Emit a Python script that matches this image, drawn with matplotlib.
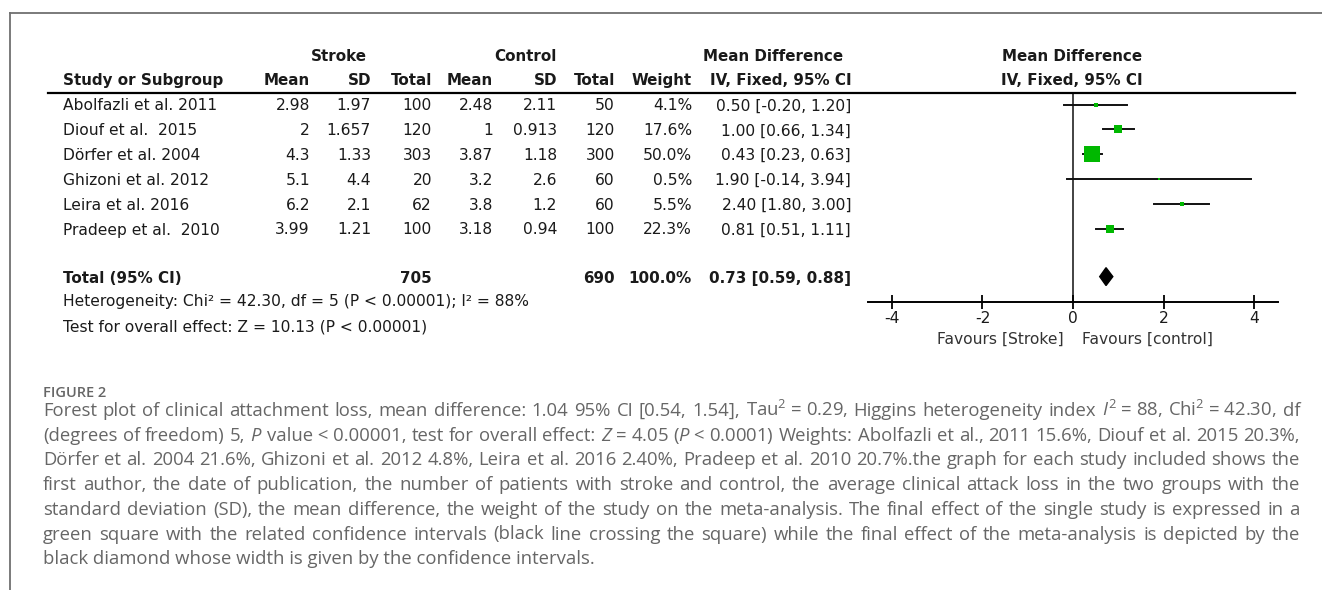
import matplotlib
matplotlib.use("Agg")
import matplotlib.pyplot as plt
from matplotlib.lines import Line2D
from matplotlib.patches import Polygon

plt.rcParams["axes.unicode_minus"] = False
plt.rcParams["mathtext.fontset"] = "custom"
plt.rcParams["mathtext.rm"] = "Open Sans"
plt.rcParams["mathtext.it"] = "Open Sans:italic"
plt.rcParams["mathtext.bf"] = "Open Sans:bold"

# study data
studies = ["Abolfazli et al. 2011", "Diouf et al.  2015", "Dörfer et al. 2004",
           "Ghizoni et al. 2012", "Leira et al. 2016", "Pradeep et al.  2010"]
stroke_mean = [2.98, 2, 4.3, 5.1, 6.2, 3.99]
stroke_sd = [1.97, 1.657, 1.33, 4.4, 2.1, 1.21]
stroke_n = [100, 120, 303, 20, 62, 100]
control_mean = [2.48, 1, 3.87, 3.2, 3.8, 3.18]
control_sd = [2.11, 0.913, 1.18, 2.6, 1.2, 0.94]
control_n = [50, 120, 300, 60, 60, 100]
weights = [4.1, 17.6, 50.0, 0.5, 5.5, 22.3]
md = [0.50, 1.00, 0.43, 1.90, 2.40, 0.81]
ci_low = [-0.20, 0.66, 0.23, -0.14, 1.80, 0.51]
ci_high = [1.20, 1.34, 0.63, 3.94, 3.00, 1.11]

total_stroke, total_control = 705, 690
total_md, total_low, total_high = 0.73, 0.59, 0.88
x_ticks = [-4, -2, 0, 2, 4]

# caption, one entry per printed line; \u00a0 keeps a pair of words together
caption_lines = [
    "Forest plot of clinical attachment loss, mean difference: 1.04 95% CI [0.54, 1.54], "
    "Tau$^2$\u00a0=\u00a00.29, Higgins heterogeneity index $I^2$\u00a0=\u00a088, "
    "Chi$^2$\u00a0=\u00a042.30, df",
    "(degrees of freedom) 5, $P$ value\u00a0<\u00a00.00001, test for overall effect: "
    "$Z$\u00a0=\u00a04.05 ($P$\u00a0<\u00a00.0001) Weights: Abolfazli et al., 2011 15.6%, "
    "Diouf et al. 2015 20.3%,",
    "Dörfer et al. 2004 21.6%, Ghizoni et al. 2012 4.8%, Leira et al. 2016 2.40%, "
    "Pradeep et al. 2010 20.7%.the graph for each study included shows the",
    "first author, the date of publication, the number of patients with stroke and control, "
    "the average clinical attack loss in the two groups with the",
    "standard deviation (SD), the mean difference, the weight of the study on the "
    "meta-analysis. The final effect of the single study is expressed in a",
    "green square with the related confidence intervals (black line crossing the square) "
    "while the final effect of the meta-analysis is depicted by the",
    "black diamond whose width is given by the confidence intervals.",
]

W, H = 1322, 590
GREEN = "#00b800"
INK = "#1a1a1a"
CAP = "#666666"
FS = 11.2
HFS = 10.9
CFS = 13.3


def fx(x):
    return x / W


def fy(y):
    return 1 - y / H


fig = plt.figure(figsize=(W / 100, H / 100), dpi=100)


def put(x, y, s, ha="left", bold=False, size=FS, color=INK):
    fig.text(fx(x), fy(y), s, ha=ha, va="baseline", fontsize=size,
             fontweight="bold" if bold else "normal", color=color)


# frame
fig.add_artist(Line2D([fx(10), fx(1322)], [fy(13), fy(13)], color="#707070", lw=1.3))
fig.add_artist(Line2D([fx(9.5), fx(9.5)], [fy(13), fy(590)], color="#707070", lw=1.3))

# table header
row0, rowh = 104.5, 24.8
put(339, 61, "Stroke", ha="center", bold=True, size=HFS)
put(525, 61, "Control", ha="center", bold=True, size=HFS)
put(773, 61, "Mean Difference", ha="center", bold=True, size=HFS)
put(1072, 61, "Mean Difference", ha="center", bold=True, size=HFS)
hdr = [(63, "Study or Subgroup", "left"), (310, "Mean", "right"), (371, "SD", "right"),
       (432, "Total", "right"), (493, "Mean", "right"), (557, "SD", "right"),
       (615, "Total", "right"), (692, "Weight", "right"), (852, "IV, Fixed, 95% CI", "right")]
for x, s, ha in hdr:
    put(x, 85, s, ha=ha, bold=True, size=HFS)
put(1072, 85, "IV, Fixed, 95% CI", ha="center", bold=True, size=HFS)
fig.add_artist(Line2D([fx(48), fx(1295)], [fy(93), fy(93)], color="black", lw=1.6))

# study rows
for i, name in enumerate(studies):
    yb = row0 + rowh * i + 6
    put(63, yb, name)
    put(310, yb, format(stroke_mean[i], "g"), ha="right")
    put(371, yb, format(stroke_sd[i], "g"), ha="right")
    put(432, yb, str(stroke_n[i]), ha="right")
    put(493, yb, format(control_mean[i], "g"), ha="right")
    put(557, yb, format(control_sd[i], "g"), ha="right")
    put(615, yb, str(control_n[i]), ha="right")
    put(692, yb, f"{weights[i]:.1f}%", ha="right")
    put(851, yb, f"{md[i]:.2f} [{ci_low[i]:.2f}, {ci_high[i]:.2f}]", ha="right")

total_row = len(studies) + 0.94
yb = row0 + rowh * total_row + 6
put(63, yb, "Total (95% CI)", bold=True, size=HFS)
put(432, yb, str(total_stroke), ha="right", bold=True, size=HFS)
put(615, yb, str(total_control), ha="right", bold=True, size=HFS)
put(692, yb, f"{sum(weights):.1f}%", ha="right", bold=True, size=HFS)
put(851, yb, f"{total_md:.2f} [{total_low:.2f}, {total_high:.2f}]", ha="right", bold=True, size=HFS)
put(63, 306, "Heterogeneity: Chi² = 42.30, df = 5 (P < 0.00001); I² = 88%")
put(63, 331, "Test for overall effect: Z = 10.13 (P < 0.00001)")

# forest plot
ax = fig.add_axes([fx(868), fy(302), (1278 - 868) / W, (302 - 93) / H])
ax.set_xlim(-4.53, 4.53)
ax.set_ylim((302 - row0) / rowh, (93 - row0) / rowh)
ax.patch.set_alpha(0)
ax.axvline(0, color="#222222", lw=1.2, zorder=1)
for i in range(len(studies)):
    ax.plot([ci_low[i], ci_high[i]], [i, i], color="#111111", lw=1.4, zorder=2)
    side = 2.5 + 0.27 * weights[i]
    ax.plot(md[i], i, marker="s", ms=side * 0.72, color=GREEN, mec=GREEN, mew=0, zorder=3)
dh = 0.36
ax.add_patch(Polygon([(total_low, total_row), (total_md, total_row - dh),
                      (total_high, total_row), (total_md, total_row + dh)],
                     closed=True, color="black", zorder=3))
for side_name in ["top", "left", "right"]:
    ax.spines[side_name].set_visible(False)
ax.spines["bottom"].set_linewidth(1.4)
ax.set_yticks([])
ax.set_xticks(x_ticks)
ax.set_xticklabels([str(t) for t in x_ticks])
ax.tick_params(axis="x", direction="inout", length=10, width=1.3, pad=1.5,
               labelsize=FS, labelcolor=INK)
put(1064, 344, "Favours [Stroke]", ha="right", color="#333333")
put(1082, 344, "Favours [control]", color="#333333")

# caption
fig.text(fx(43), fy(397), "FIGURE 2", va="baseline", fontsize=10.5, color=CAP,
         family="Open Sans", fontweight="semibold")

renderer = fig.canvas.get_renderer()
x0, x1 = 43, 1300
for k, line in enumerate(caption_lines):
    yb = 416 + 24.7 * k
    if k == len(caption_lines) - 1:
        fig.text(fx(x0), fy(yb), line, va="baseline", fontsize=CFS, color=CAP,
                 family="Open Sans")
        continue
    words = line.split(" ")
    texts = [fig.text(fx(x0), fy(yb), w, va="baseline", fontsize=CFS, color=CAP,
                      family="Open Sans") for w in words]
    widths = [t.get_window_extent(renderer).width for t in texts]
    gap = (x1 - x0 - sum(widths)) / (len(words) - 1)
    x = x0
    for t, w in zip(texts, widths):
        t.set_x(fx(x))
        x += w + gap

fig.savefig("out.png", dpi=100)
